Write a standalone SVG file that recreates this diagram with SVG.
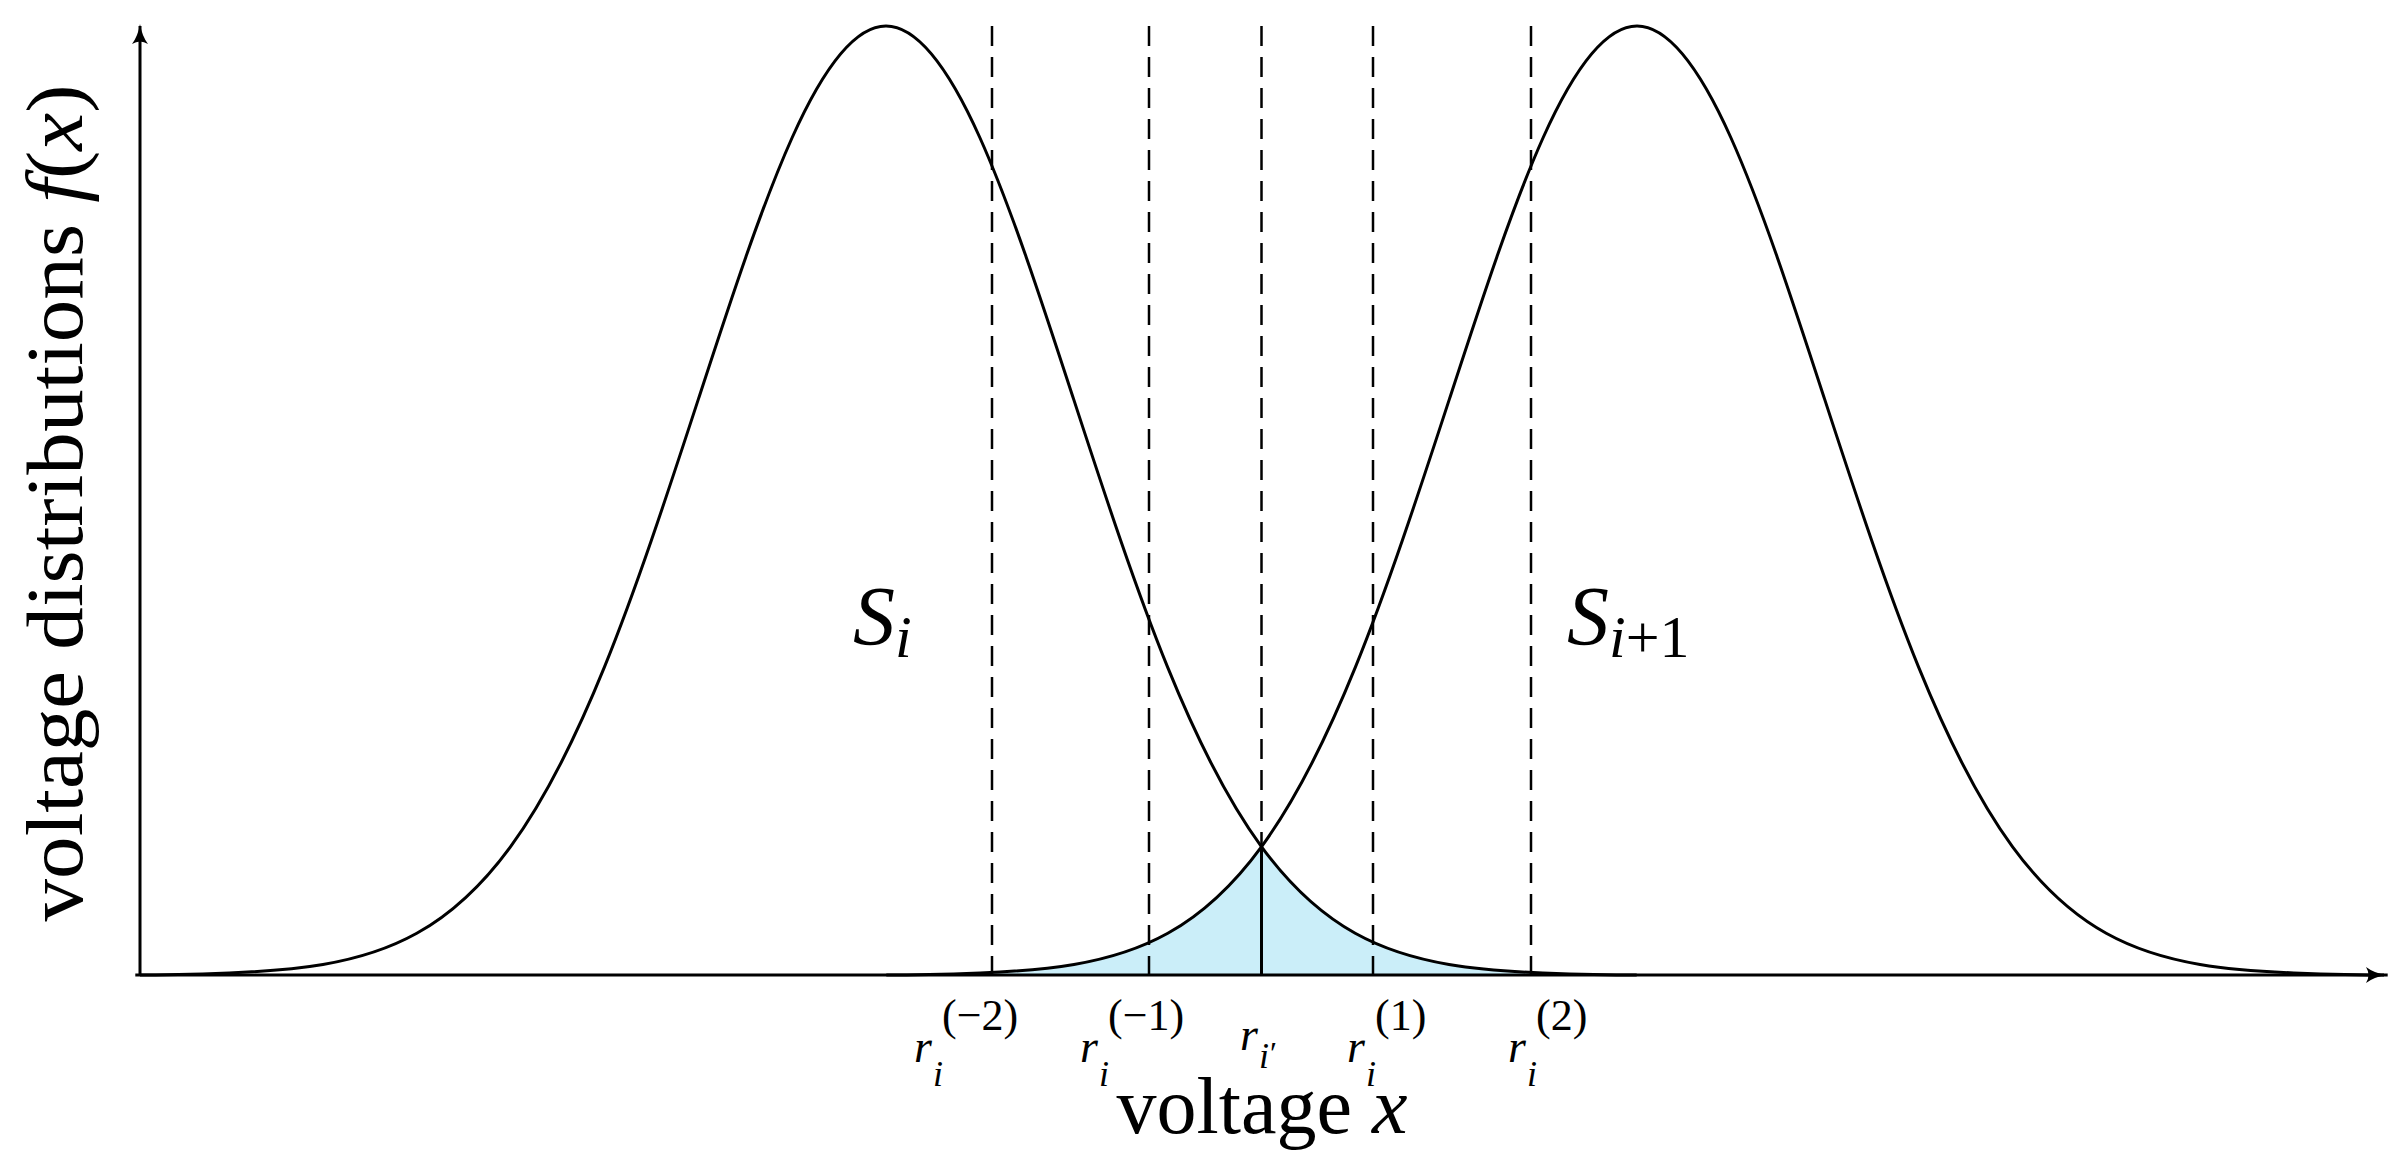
<svg xmlns="http://www.w3.org/2000/svg" width="2408" height="1164" viewBox="0 0 2408 1164">
<style>
.c{fill:none;stroke:#000;stroke-width:3;stroke-linejoin:round}
.d{stroke:#000;stroke-width:2.5;stroke-dasharray:20 11}
.t{font-family:"Liberation Serif",serif;fill:#000}
.i{font-style:italic}
</style>
<defs>
<marker id="ar" viewBox="0 0 20 16" refX="18" refY="8" markerWidth="20" markerHeight="16" markerUnits="userSpaceOnUse" orient="auto"><path d="M0,0 Q8,6 20,8 Q8,10 0,16 Q5,8 0,0Z" fill="#000"/></marker>
<path id="g" d="M-750.7,975 C-719.4,975 -688.2,974.1 -656.9,972.9 C-625.6,971.7 -594.3,969.8 -563,964.5 C-531.7,959.2 -500.5,950.7 -469.2,933.3 C-437.9,915.9 -406.7,889.4 -375.4,846.6 C-344.1,803.8 -312.8,743.9 -281.5,666.9 C-250.2,589.9 -219,495.3 -187.7,399.4 C-156.4,303.5 -125.1,207.3 -93.8,137.5 C-62.5,67.7 -31.28,26 0,26 C31.28,26 62.5,67.7 93.8,137.5 C125.1,207.3 156.4,303.5 187.7,399.4 C219,495.3 250.2,589.9 281.5,666.9 C312.8,743.9 344.1,803.8 375.4,846.6 C406.7,889.4 437.9,915.9 469.2,933.3 C500.5,950.7 531.7,959.2 563,964.5 C594.3,969.8 625.6,971.7 656.9,972.9 C688.2,974.1 719.4,975 750.7,975"/>
<clipPath id="band"><rect x="992" y="0" width="539" height="975"/></clipPath>
<clipPath id="underL"><use href="#g" transform="translate(886,0)"/></clipPath>
</defs>
<rect width="2408" height="1164" fill="#fff"/>
<g id="shade" clip-path="url(#band)"><g clip-path="url(#underL)"><use href="#g" transform="translate(1637,0)" fill="#cbeef9"/></g></g>
<g id="curves">
<use id="Si" href="#g" class="c" transform="translate(886,0)"/>
<use id="Si1" href="#g" class="c" transform="translate(1637,0)"/>
</g>
<g id="thresholds">
<line class="d" x1="992" y1="26" x2="992" y2="975"/>
<line class="d" x1="1149" y1="26" x2="1149" y2="975"/>
<line class="d" x1="1261.5" y1="26" x2="1261.5" y2="846"/>
<line x1="1261.5" y1="846" x2="1261.5" y2="975" stroke="#000" stroke-width="3"/>
<line class="d" x1="1373" y1="26" x2="1373" y2="975"/>
<line class="d" x1="1531" y1="26" x2="1531" y2="975"/>
</g>
<g id="axes">
<line x1="140" y1="975" x2="2384" y2="975" stroke="#000" stroke-width="3" marker-end="url(#ar)"/>
<line x1="140" y1="975" x2="140" y2="26" stroke="#000" stroke-width="3" marker-end="url(#ar)"/>
</g>
<g id="labels">
<text class="t" x="853" y="645" font-size="84"><tspan class="i">S</tspan><tspan class="i" font-size="60" dy="12">i</tspan></text>
<text class="t" x="1567" y="645" font-size="84"><tspan class="i">S</tspan><tspan font-size="60" dy="12"><tspan class="i">i</tspan>+1</tspan></text>
<text class="t" font-size="80" text-anchor="middle" textLength="837" lengthAdjust="spacingAndGlyphs" transform="translate(82,503) rotate(-90)">voltage distributions <tspan class="i">f</tspan>(<tspan class="i">x</tspan>)</text>
<text class="t" x="1262" y="1133" font-size="80" text-anchor="middle">voltage <tspan class="i">x</tspan></text>
<text class="t" font-size="46"><tspan class="i" x="914" y="1062">r</tspan><tspan class="i" x="933" y="1086" font-size="36">i</tspan><tspan x="942" y="1030" font-size="44">(−2)</tspan></text>
<text class="t" font-size="46"><tspan class="i" x="1080" y="1062">r</tspan><tspan class="i" x="1099" y="1086" font-size="36">i</tspan><tspan x="1108" y="1030" font-size="44">(−1)</tspan></text>
<text class="t" font-size="46"><tspan class="i" x="1240" y="1050">r</tspan><tspan class="i" x="1259" y="1068" font-size="36">i</tspan><tspan x="1270" y="1064" font-size="32">′</tspan></text>
<text class="t" font-size="46"><tspan class="i" x="1347" y="1062">r</tspan><tspan class="i" x="1366" y="1086" font-size="36">i</tspan><tspan x="1375" y="1030" font-size="44">(1)</tspan></text>
<text class="t" font-size="46"><tspan class="i" x="1508" y="1062">r</tspan><tspan class="i" x="1527" y="1086" font-size="36">i</tspan><tspan x="1536" y="1030" font-size="44">(2)</tspan></text>
</g>
</svg>
